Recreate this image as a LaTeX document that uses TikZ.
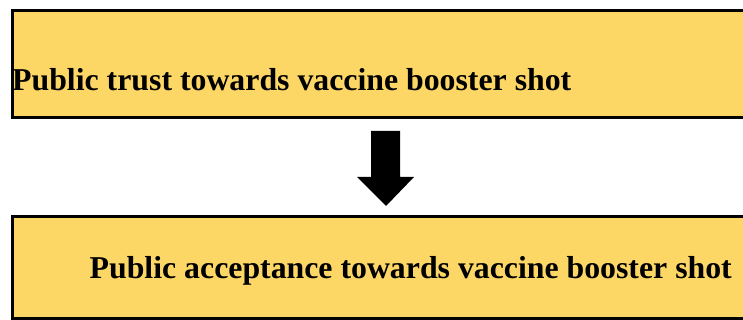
\documentclass[tikz,border=0pt]{standalone}
\usepackage{fontspec}
\setmainfont{Liberation Serif}
\definecolor{boxfill}{HTML}{FDD766}
\tikzset{
  flowbox/.style={draw=black, line width=3pt, fill=boxfill},
  boxtext/.style={inner sep=0pt, anchor=base west, font=\bfseries\fontsize{31.8}{38}\selectfont},
  bigarrow/.style={fill=black, draw=none}
}
\begin{document}
\begin{tikzpicture}[x=1pt, y={(0pt,-1pt)}]
\useasboundingbox (0,0) rectangle (743,320);
\clip (0,0) rectangle (743,320);
\draw[flowbox] (12.5,10.5) rectangle (770,117.5);
\draw[flowbox] (12.5,216.5) rectangle (770,318.5);
\node[boxtext] (trust) at (12,91) {Public trust towards vaccine booster shot};
\node[boxtext] (accept) at (89.5,278) {Public acceptance towards vaccine booster shot};
\fill[bigarrow] (371,131) -- (400,131) -- (400,177) -- (414,177) -- (386,206) -- (357,177) -- (371,177) -- cycle;
\end{tikzpicture}
\end{document}
